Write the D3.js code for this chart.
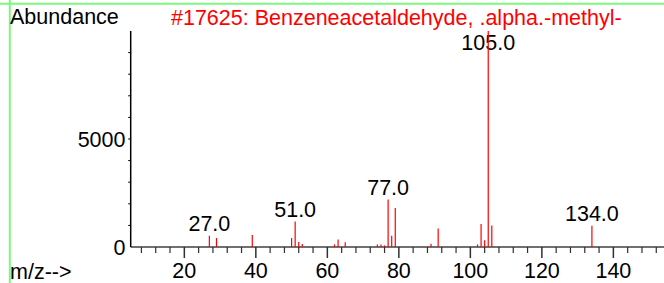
<!DOCTYPE html>
<html>
<head>
<meta charset="utf-8">
<script src="https://cdn.jsdelivr.net/npm/d3@7"></script>
<style>
  body { margin: 0; background: white; }
  svg { display: block; font-family: "Liberation Sans", Arial, sans-serif; }
</style>
</head>
<body>
<div id="chart"></div>
<script>
// spectrum peaks
var mz_values = [27, 29, 39, 50, 51, 52, 53, 62, 63, 65, 74, 75, 76, 77, 78, 79, 89, 91, 102, 103, 104, 105, 106, 134]
var abundance_values = [520, 415, 550, 415, 1180, 230, 140, 120, 350, 215, 120, 110, 75, 2200, 520, 1800, 155, 860, 120, 1060, 310, 9999, 1000, 980]
var labeled_peaks = [27, 51, 77, 105, 134]
var y_labels = [0, 5000]
var title_text = "#17625: Benzeneacetaldehyde, .alpha.-methyl-"

var WIDTH = 664, HEIGHT = 283
var FONT = "21.5px"

const svg = d3.select("#chart").append("svg")
  .attr("width", WIDTH)
  .attr("height", HEIGHT)

// green frame on top and left
svg.append("line")
  .attr("x1", 0).attr("x2", WIDTH).attr("y1", 3.8).attr("y2", 3.8)
  .style("stroke", "#7ff77f").style("stroke-width", "2px")
svg.append("line")
  .attr("x1", 9.8).attr("x2", 9.8).attr("y1", 0).attr("y2", HEIGHT)
  .style("stroke", "#7ff77f").style("stroke-width", "2px")

var x = d3.scaleLinear().domain([5, 155]).range([130.7, 667])
var y = d3.scaleLinear().domain([0, 10000]).range([247, 31])

// x axis: minor ticks every 4, major every 20
var minor_ticks = d3.range(8, 155, 4).filter(function(d){ return d % 20 != 0 })
var major_ticks = d3.range(20, 155, 20)

svg.append("line")
  .attr("x1", x(5)).attr("x2", WIDTH).attr("y1", y(0)).attr("y2", y(0))
  .style("stroke", "#404040").style("stroke-width", "1.5px")

svg.selectAll(".minor")
  .data(minor_ticks)
  .enter()
  .append("line")
  .attr("x1", function(d){ return x(d) }).attr("x2", function(d){ return x(d) })
  .attr("y1", y(0)).attr("y2", y(0) + 6)
  .style("stroke", "#303030").style("stroke-width", "1.2px")

svg.selectAll(".major")
  .data(major_ticks)
  .enter()
  .append("line")
  .attr("x1", function(d){ return x(d) }).attr("x2", function(d){ return x(d) })
  .attr("y1", y(0)).attr("y2", y(0) + 11)
  .style("stroke", "#303030").style("stroke-width", "1.5px")

svg.selectAll(".xlabel")
  .data(major_ticks)
  .enter()
  .append("text")
  .attr("x", function(d){ return x(d) })
  .attr("y", 278)
  .attr("text-anchor", "middle")
  .style("font-size", FONT)
  .text(function(d){ return d })

// y axis
svg.append("line")
  .attr("x1", x(5)).attr("x2", x(5)).attr("y1", y(10000)).attr("y2", y(0))
  .style("stroke", "#000").style("stroke-width", "1.5px")

svg.selectAll(".ytick")
  .data(d3.range(1000, 10000, 1000))
  .enter()
  .append("line")
  .attr("x1", x(5) - 2.5).attr("x2", x(5))
  .attr("y1", function(d){ return y(d) }).attr("y2", function(d){ return y(d) })
  .style("stroke", "#000").style("stroke-width", "1px")

svg.selectAll(".ylabel")
  .data(y_labels)
  .enter()
  .append("text")
  .attr("x", 125.5)
  .attr("y", function(d){ return y(d) })
  .attr("dy", "0.36em")
  .attr("text-anchor", "end")
  .style("font-size", FONT)
  .text(function(d){ return d })

// peak labels (kept under the title line)
svg.selectAll(".plabel")
  .data(labeled_peaks)
  .enter()
  .append("text")
  .attr("x", function(d){ return x(d) })
  .attr("y", function(d){
    var v = abundance_values[mz_values.indexOf(d)]
    return Math.max(y(v) - 4.5, 50)
  })
  .attr("text-anchor", "middle")
  .style("font-size", FONT)
  .text(function(d){ return d.toFixed(1) })

// peaks
svg.selectAll(".peak")
  .data(mz_values)
  .enter()
  .append("line")
  .attr("x1", function(d){ return x(d) }).attr("x2", function(d){ return x(d) })
  .attr("y1", y(0))
  .attr("y2", function(d, i){ return y(abundance_values[i]) })
  .style("stroke", "#ff0000").style("stroke-width", "1.2px")

// texts
svg.append("text")
  .attr("x", 10).attr("y", 24)
  .style("font-size", FONT)
  .text("Abundance")

svg.append("text")
  .attr("x", 171).attr("y", 24.5)
  .style("font-size", FONT)
  .style("fill", "#ff0000")
  .text(title_text)

svg.append("text")
  .attr("x", 10).attr("y", 278.5)
  .style("font-size", FONT)
  .text("m/z-->")
</script>
</body>
</html>
